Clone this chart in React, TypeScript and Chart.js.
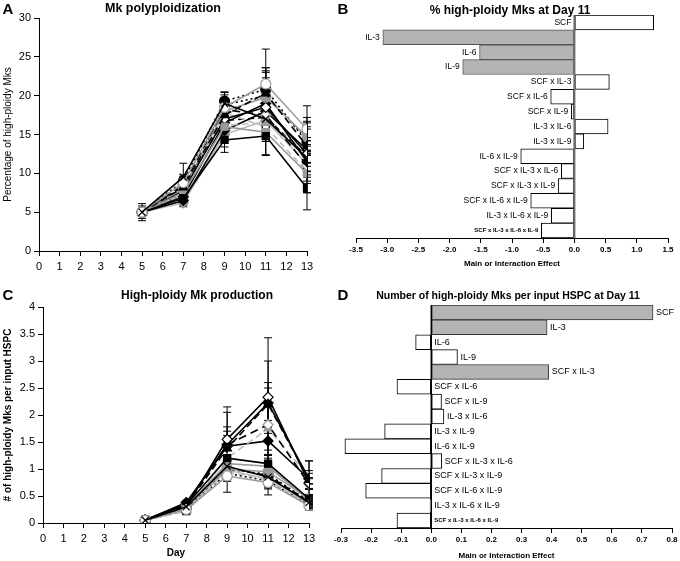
import React, { useEffect, useRef } from "react";
import { Chart, registerables } from "chart.js";

Chart.register(...registerables);

const FONT = "'Liberation Sans', Arial, Helvetica, sans-serif";

// ---------- shared ----------
const days = [5, 7, 9, 11, 13];
const dayTicks = [0, 1, 2, 3, 4, 5, 6, 7, 8, 9, 10, 11, 12, 13];
const conditionNames = [
  "C1", "C2", "C3", "C4", "C5", "C6", "C7", "C8",
  "C9", "C10", "C11", "C12", "C13", "C14", "C15", "C16",
];

// ---------- Panel A: % high-ploidy Mks ----------
const pctTicks = [0, 5, 10, 15, 20, 25, 30];
const pct1 = [5, 9.5, 19, 17, 12];
const pct2 = [5, 8.8, 18.5, 21.5, 15.7];
const pct3 = [5, 6.8, 14.3, 14.8, 8.1];
const pct4 = [5, 8.2, 17.5, 20.3, 13.5];
const pct5 = [5, 7.5, 16, 15.3, 10];
const pct6 = [5, 8, 18, 19.8, 14.7];
const pct7 = [5, 7.8, 17, 18.5, 12.5];
const pct8 = [5, 7, 16.5, 19, 11.5];
const pct9 = [5, 8.5, 18.2, 17.5, 11];
const pct10 = [5, 7.2, 16.2, 16.5, 12.8];
const pct11 = [5, 6.5, 15.5, 18, 13];
const pct12 = [5, 9, 19.3, 20.8, 14];
const pct13 = [5, 7.6, 17.8, 16, 10.2];
const pct14 = [5, 6.2, 15, 16.8, 11.2];
const pct15 = [5, 8.3, 16.8, 17.2, 12.2];
const pct16 = [5, 7.3, 18.8, 20, 14.5];
const pctErr1 = [1.1, 1.8, 1.4, 2.5, 6.7];
const pctErr2 = [0.5, 1.0, 1.2, 4.5, 1.5];
const pctErr3 = [0.8, 0.8, 1.6, 2.5, 0.6];
const pctErr4 = [0.5, 0.6, 1.3, 3.3, 3.2];
const pctErr5 = [0.4, 0.6, 1.2, 2.9, 2.5];
const pctErr6 = [0.4, 0.7, 1.5, 3.8, 1.8];
const pctErr7 = [0.3, 0.6, 2.5, 2.2, 1.2];
const pctErr8 = [0.3, 0.7, 2.1, 4.0, 1.3];
const pctErr9 = [0.3, 0.6, 1.5, 2.0, 1.5];
const pctErr10 = [0.3, 0.5, 1.4, 2.1, 1.4];
const pctErr11 = [0.3, 0.6, 1.3, 1.8, 1.6];
const pctErr12 = [0.3, 0.6, 1.2, 2.4, 1.7];
const pctErr13 = [0.3, 0.5, 1.5, 1.9, 1.2];
const pctErr14 = [0.3, 0.5, 1.6, 2.0, 1.4];
const pctErr15 = [0.3, 0.6, 1.4, 2.2, 1.3];
const pctErr16 = [0.3, 0.5, 1.3, 2.3, 1.5];

// ---------- Panel C: high-ploidy Mks per input HSPC ----------
const numTicks = [0, 0.5, 1, 1.5, 2, 2.5, 3, 3.5, 4];
const num1 = [0.05, 0.3, 1.05, 0.85, 0.38];
const num2 = [0.05, 0.25, 0.87, 0.75, 0.32];
const num3 = [0.06, 0.33, 1.2, 1.1, 0.45];
const num4 = [0.05, 0.32, 1.38, 2.2, 0.8];
const num5 = [0.05, 0.3, 1.1, 1.05, 0.42];
const num6 = [0.05, 0.3, 1.0, 0.95, 0.45];
const num7 = [0.05, 0.3, 1.55, 2.33, 0.74];
const num8 = [0.06, 0.36, 1.45, 2.22, 0.82];
const num9 = [0.05, 0.32, 1.45, 1.82, 0.72];
const num10 = [0.05, 0.27, 1.2, 1.75, 0.85];
const num11 = [0.05, 0.38, 1.42, 1.52, 0.82];
const num12 = [0.05, 0.28, 1.0, 0.9, 0.4];
const num13 = [0.05, 0.22, 0.95, 0.8, 0.33];
const num14 = [0.05, 0.26, 0.98, 0.82, 0.36];
const num15 = [0.05, 0.29, 1.02, 0.88, 0.4];
const num16 = [0.05, 0.24, 0.92, 0.78, 0.35];
const numErr1 = [0.02, 0.04, 0.2, 0.15, 0.06];
const numErr2 = [0.02, 0.04, 0.3, 0.23, 0.08];
const numErr3 = [0.02, 0.04, 0.3, 0.15, 0.08];
const numErr4 = [0.02, 0.04, 0.4, 0.3, 0.35];
const numErr5 = [0.02, 0.03, 0.15, 0.15, 0.06];
const numErr6 = [0.02, 0.03, 0.15, 0.15, 0.06];
const numErr7 = [0.02, 0.04, 0.6, 0.67, 0.1];
const numErr8 = [0.02, 0.04, 0.6, 1.21, 0.33];
const numErr9 = [0.02, 0.04, 0.25, 0.78, 0.1];
const numErr10 = [0.02, 0.04, 0.2, 0.4, 0.12];
const numErr11 = [0.02, 0.04, 0.2, 0.25, 0.1];
const numErr12 = [0.02, 0.03, 0.15, 0.15, 0.06];
const numErr13 = [0.02, 0.03, 0.15, 0.15, 0.06];
const numErr14 = [0.02, 0.03, 0.15, 0.15, 0.06];
const numErr15 = [0.02, 0.03, 0.15, 0.15, 0.06];
const numErr16 = [0.02, 0.03, 0.15, 0.15, 0.06];

// ---------- Panels B & D: effects ----------
const effectLabels = [
  "SCF", "IL-3", "IL-6", "IL-9",
  "SCF x IL-3", "SCF x IL-6", "SCF x IL-9", "IL-3 x IL-6", "IL-3 x IL-9", "IL-6 x IL-9",
  "SCF x IL-3 x IL-6", "SCF x IL-3 x IL-9", "SCF x IL-6 x IL-9", "IL-3 x IL-6 x IL-9",
  "SCF x IL-3 x IL-6 x IL-9",
];
const pctEffects = [1.27, -3.07, -1.52, -1.79, 0.56, -0.38, -0.05, 0.54, 0.15, -0.86, -0.21, -0.26, -0.7, -0.37, -0.53];
const pctSignificant = [false, true, true, true, false, false, false, false, false, false, false, false, false, false, false];
const pctEffectTicks = [-3.5, -3, -2.5, -2, -1.5, -1, -0.5, 0, 0.5, 1, 1.5];
const numEffects = [0.737, 0.385, -0.052, 0.087, 0.39, -0.114, 0.034, 0.042, -0.155, -0.287, 0.035, -0.165, -0.218, -0.004, -0.114];
const numSignificant = [true, true, false, false, true, false, false, false, false, false, false, false, false, false, false];
const numEffectTicks = [-0.3, -0.2, -0.1, 0, 0.1, 0.2, 0.3, 0.4, 0.5, 0.6, 0.7, 0.8];

// ---------- styles ----------
const BLACK = "#000000";
const GRAY = "#9a9a9a";
const LGRAY = "#bdbdbd";
const WHITE = "#ffffff";
const seriesStyles = [
  { line: BLACK, dash: [], marker: "crossRot", fill: BLACK, edge: BLACK },
  { line: GRAY, dash: [], marker: "circle", fill: WHITE, edge: GRAY },
  { line: BLACK, dash: [], marker: "rect", fill: BLACK, edge: BLACK },
  { line: BLACK, dash: [7, 4], marker: "triangle", fill: BLACK, edge: BLACK },
  { line: GRAY, dash: [], marker: "rect", fill: GRAY, edge: GRAY },
  { line: GRAY, dash: [], marker: "circle", fill: GRAY, edge: GRAY },
  { line: BLACK, dash: [], marker: "rectRot", fill: WHITE, edge: BLACK },
  { line: BLACK, dash: [], marker: "rectRot", fill: BLACK, edge: BLACK },
  { line: BLACK, dash: [8, 5], marker: "rectRot", fill: WHITE, edge: GRAY },
  { line: LGRAY, dash: [7, 4], marker: "triangle", fill: GRAY, edge: GRAY },
  { line: BLACK, dash: [], marker: "rectRot", fill: BLACK, edge: BLACK },
  { line: BLACK, dash: [2, 3], marker: "circle", fill: BLACK, edge: BLACK },
  { line: LGRAY, dash: [6, 4], marker: "rect", fill: WHITE, edge: BLACK },
  { line: LGRAY, dash: [], marker: "rectRot", fill: GRAY, edge: GRAY },
  { line: BLACK, dash: [6, 4], marker: "crossRot", fill: GRAY, edge: GRAY },
  { line: BLACK, dash: [2, 3], marker: "triangle", fill: WHITE, edge: BLACK },
];

const pctSeries = [pct1, pct2, pct3, pct4, pct5, pct6, pct7, pct8, pct9, pct10, pct11, pct12, pct13, pct14, pct15, pct16];
const pctErrors = [pctErr1, pctErr2, pctErr3, pctErr4, pctErr5, pctErr6, pctErr7, pctErr8, pctErr9, pctErr10, pctErr11, pctErr12, pctErr13, pctErr14, pctErr15, pctErr16];
const numSeries = [num1, num2, num3, num4, num5, num6, num7, num8, num9, num10, num11, num12, num13, num14, num15, num16];
const numErrors = [numErr1, numErr2, numErr3, numErr4, numErr5, numErr6, numErr7, numErr8, numErr9, numErr10, numErr11, numErr12, numErr13, numErr14, numErr15, numErr16];

// ---------- plugins ----------
const errorBarsPlugin = {
  id: "errorBars",
  beforeDatasetsDraw(chart: any) {
    const { ctx, scales } = chart;
    const xs = scales.x;
    const ys = scales.y;
    ctx.save();
    ctx.lineWidth = 1;
    chart.data.datasets.forEach((ds: any) => {
      if (!ds.errors) return;
      ctx.strokeStyle = ds.errColor || BLACK;
      ds.data.forEach((p: any, j: number) => {
        const e = ds.errors[j];
        if (!e) return;
        const px = xs.getPixelForValue(p.x);
        const top = ys.getPixelForValue(p.y + e);
        const bot = ys.getPixelForValue(Math.max(0, p.y - e));
        ctx.beginPath();
        ctx.moveTo(px, top);
        ctx.lineTo(px, bot);
        ctx.moveTo(px - 4, top);
        ctx.lineTo(px + 4, top);
        ctx.moveTo(px - 4, bot);
        ctx.lineTo(px + 4, bot);
        ctx.stroke();
      });
    });
    ctx.restore();
  },
};

function barLabelsPlugin(side: "left" | "right", zeroColor: string, zeroWidth: number, size: number) {
  return {
    id: "barLabels",
    afterDatasetsDraw(chart: any) {
      const { ctx, chartArea, scales } = chart;
      const z = scales.x.getPixelForValue(0);
      ctx.save();
      ctx.strokeStyle = zeroColor;
      ctx.lineWidth = zeroWidth;
      ctx.beginPath();
      ctx.moveTo(z, chartArea.top);
      ctx.lineTo(z, chartArea.bottom);
      ctx.stroke();
      const meta = chart.getDatasetMeta(0);
      ctx.fillStyle = BLACK;
      ctx.textBaseline = "middle";
      meta.data.forEach((bar: any, i: number) => {
        const label = chart.data.labels[i];
        const last = i === meta.data.length - 1;
        ctx.font = last ? `bold 6px ${FONT}` : `${size}px ${FONT}`;
        if (side === "left") {
          ctx.textAlign = "right";
          ctx.fillText(label, Math.min(z, bar.x) - 3, bar.y);
        } else {
          ctx.textAlign = "left";
          ctx.fillText(label, Math.max(z, bar.x) + 3, bar.y);
        }
      });
      ctx.restore();
    },
  };
}

// ---------- configs ----------
function lineDatasets(series: number[][], errors: number[][]) {
  return series.map((vals, i) => {
    const st = seriesStyles[i];
    return {
      label: conditionNames[i],
      data: days.map((d, j) => ({ x: d, y: vals[j] })),
      errors: errors[i],
      errColor: BLACK,
      borderColor: st.line,
      borderDash: st.dash,
      borderWidth: 1.6,
      pointStyle: st.marker,
      pointRadius: 5,
      pointBackgroundColor: st.fill,
      pointBorderColor: st.edge,
      pointBorderWidth: 1.2,
      tension: 0,
    };
  });
}

function lineConfig(opts: {
  series: number[][];
  errors: number[][];
  yMax: number;
  yTicks: number[];
  yTitle: string;
  yTitleBold: boolean;
  yWidth: number;
  xHeight: number;
  xTitle: string | null;
  padding: any;
}) {
  const tickFont = { family: FONT, size: 11 };
  return {
    type: "line",
    data: { datasets: lineDatasets(opts.series, opts.errors) },
    plugins: [errorBarsPlugin],
    options: {
      animation: false,
      responsive: false,
      layout: { padding: opts.padding },
      plugins: { legend: { display: false }, tooltip: { enabled: false }, title: { display: false } },
      scales: {
        x: {
          type: "linear",
          min: 0,
          max: 13,
          afterBuildTicks: (s: any) => { s.ticks = dayTicks.map((v) => ({ value: v })); },
          afterFit: (s: any) => { s.height = opts.xHeight; },
          ticks: { font: tickFont, color: BLACK, padding: 4, maxRotation: 0, autoSkip: false, callback: (v: any) => String(v) },
          grid: { drawOnChartArea: false, drawTicks: true, tickLength: 5, color: BLACK },
          border: { color: BLACK, width: 1 },
          title: opts.xTitle
            ? { display: true, text: opts.xTitle, color: BLACK, font: { family: FONT, size: 10, weight: "bold" }, padding: { top: 0, bottom: 2 } }
            : { display: false },
        },
        y: {
          type: "linear",
          min: 0,
          max: opts.yMax,
          afterBuildTicks: (s: any) => { s.ticks = opts.yTicks.map((v) => ({ value: v })); },
          afterFit: (s: any) => { s.width = opts.yWidth; },
          ticks: { font: tickFont, color: BLACK, padding: 3, callback: (v: any) => String(v) },
          grid: { drawOnChartArea: false, drawTicks: true, tickLength: 5, color: BLACK },
          border: { color: BLACK, width: 1 },
          title: {
            display: true,
            text: opts.yTitle,
            color: BLACK,
            font: { family: FONT, size: 10, weight: opts.yTitleBold ? "bold" : "normal" },
            padding: { top: 2, bottom: 0 },
          },
        },
      },
    },
  };
}

function barConfig(opts: {
  values: number[];
  significant: boolean[];
  min: number;
  max: number;
  ticks: number[];
  side: "left" | "right";
  zeroColor: string;
  zeroWidth: number;
  labelSize: number;
  xHeight: number;
  titlePad: any;
  padding: any;
  grayEdge: string;
}) {
  return {
    type: "bar",
    data: {
      labels: effectLabels,
      datasets: [
        {
          data: opts.values,
          backgroundColor: opts.significant.map((s) => (s ? "#b4b4b4" : WHITE)),
          borderColor: opts.significant.map((s) => (s ? opts.grayEdge : BLACK)),
          borderWidth: 1,
          borderSkipped: false,
          categoryPercentage: 1,
          barPercentage: 1,
        },
      ],
    },
    plugins: [barLabelsPlugin(opts.side, opts.zeroColor, opts.zeroWidth, opts.labelSize)],
    options: {
      animation: false,
      responsive: false,
      indexAxis: "y",
      layout: { padding: opts.padding },
      plugins: { legend: { display: false }, tooltip: { enabled: false }, title: { display: false } },
      scales: {
        x: {
          type: "linear",
          min: opts.min,
          max: opts.max,
          afterBuildTicks: (s: any) => { s.ticks = opts.ticks.map((v) => ({ value: v })); },
          afterFit: (s: any) => { s.height = opts.xHeight; },
          ticks: {
            font: { family: FONT, size: 8, weight: "bold" },
            color: BLACK,
            padding: 2,
            maxRotation: 0,
            autoSkip: false,
            callback: (v: any) => Number(v).toFixed(1),
          },
          grid: { drawOnChartArea: false, drawTicks: true, tickLength: 5, color: BLACK },
          border: { color: BLACK, width: 1 },
          title: {
            display: true,
            text: "Main or Interaction Effect",
            color: BLACK,
            font: { family: FONT, size: 8, weight: "bold" },
            padding: opts.titlePad,
          },
        },
        y: { type: "category", display: false },
      },
    },
  };
}

// ---------- components ----------
function ChartCanvas({ left, top, width, height, config }: any) {
  const ref = useRef<HTMLCanvasElement | null>(null);
  useEffect(() => {
    if (!ref.current) return;
    const chart = new Chart(ref.current, config);
    return () => chart.destroy();
  }, []);
  return (
    <canvas
      ref={ref}
      width={width}
      height={height}
      style={{ position: "absolute", left, top, width, height }}
    />
  );
}

function Label({ x, y, text, size, bold = true }: any) {
  return (
    <div
      style={{
        position: "absolute",
        left: x,
        top: y,
        transform: "translate(-50%, -50%)",
        whiteSpace: "nowrap",
        fontFamily: FONT,
        fontSize: size,
        fontWeight: bold ? "bold" : "normal",
        lineHeight: 1,
        color: "#000",
      }}
    >
      {text}
    </div>
  );
}

export default function App() {
  const configA = lineConfig({
    series: pctSeries,
    errors: pctErrors,
    yMax: 30,
    yTicks: pctTicks,
    yTitle: "Percentage of high-ploidy Mks",
    yTitleBold: false,
    yWidth: 39,
    xHeight: 29,
    xTitle: null,
    padding: { left: 0, right: 33, top: 18, bottom: 0 },
  });
  const configC = lineConfig({
    series: numSeries,
    errors: numErrors,
    yMax: 4,
    yTicks: numTicks,
    yTitle: "# of high-ploidy Mks per input HSPC",
    yTitleBold: true,
    yWidth: 43,
    xHeight: 38,
    xTitle: "Day",
    padding: { left: 0, right: 31, top: 27, bottom: 0 },
  });
  const configB = barConfig({
    values: pctEffects,
    significant: pctSignificant,
    min: -3.5,
    max: 1.5,
    ticks: pctEffectTicks,
    side: "left",
    zeroColor: "#6e6e6e",
    zeroWidth: 2,
    labelSize: 8.5,
    xHeight: 42,
    titlePad: { top: 4, bottom: 11 },
    padding: { left: 16, right: 12, top: 15, bottom: 0 },
    grayEdge: "#555555",
  });
  const configD = barConfig({
    values: numEffects,
    significant: numSignificant,
    min: -0.3,
    max: 0.8,
    ticks: numEffectTicks,
    side: "right",
    zeroColor: BLACK,
    zeroWidth: 1.5,
    labelSize: 9,
    xHeight: 33,
    titlePad: { top: 4, bottom: 0 },
    padding: { left: 21, right: 8, top: 25, bottom: 0 },
    grayEdge: "#333333",
  });

  return (
    <div style={{ position: "fixed", left: 0, top: 0, width: 680, height: 561, background: "#fff", overflow: "hidden" }}>
      <ChartCanvas left={0} top={0} width={340} height={280} config={configA} />
      <ChartCanvas left={340} top={0} width={340} height={280} config={configB} />
      <ChartCanvas left={0} top={280} width={340} height={281} config={configC} />
      <ChartCanvas left={320} top={280} width={360} height={281} config={configD} />

      <Label x={8} y={8} text="A" size={15} />
      <Label x={343} y={8} text="B" size={15} />
      <Label x={8} y={294} text="C" size={15} />
      <Label x={343} y={294} text="D" size={15} />

      <Label x={163} y={8} text="Mk polyploidization" size={12.5} />
      <Label x={510} y={10} text="% high-ploidy Mks at Day 11" size={12} />
      <Label x={197} y={295} text="High-ploidy Mk production" size={12} />
      <Label x={508} y={295} text="Number of high-ploidy Mks per input HSPC at Day 11" size={10.5} />
    </div>
  );
}
